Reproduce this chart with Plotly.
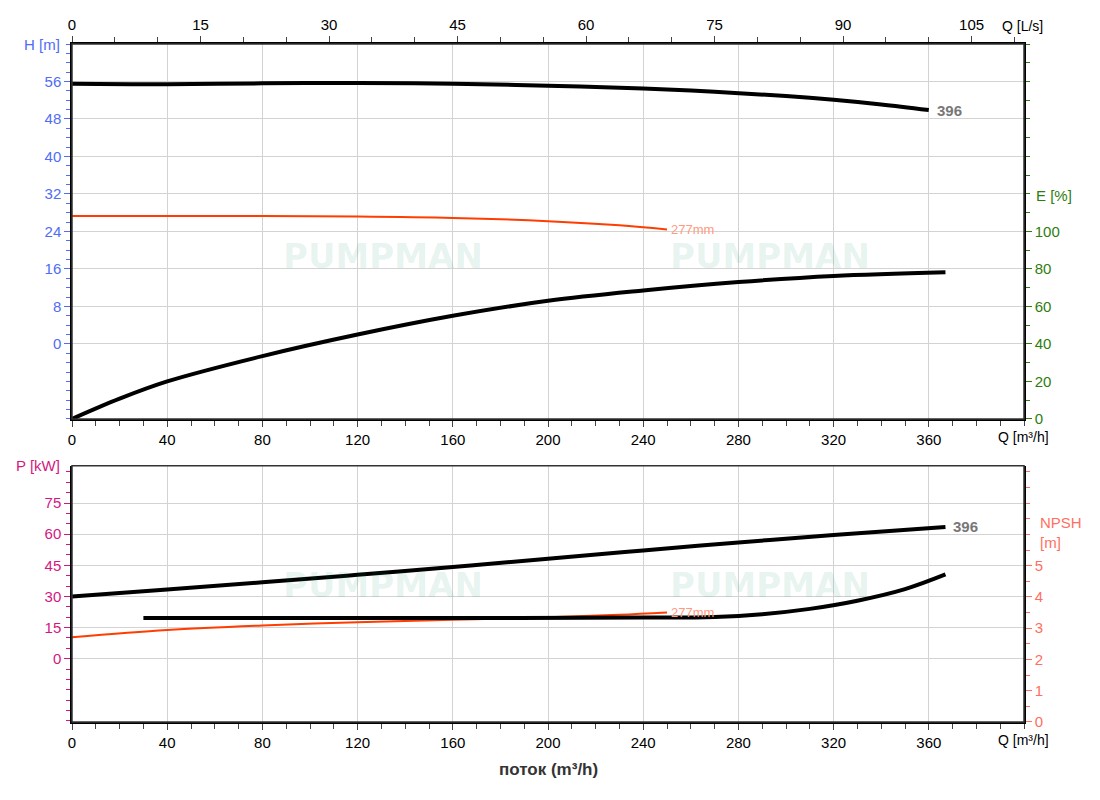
import plotly.graph_objects as go

# top chart: head and efficiency vs flow
q_head = [0, 40, 80, 120, 160, 200, 240, 270, 300, 320, 340, 360]
head_396 = [55.5, 55.4, 55.6, 55.7, 55.5, 55.1, 54.5, 53.8, 52.9, 52.1, 51.1, 49.9]
q_head_277 = [0, 40, 80, 120, 160, 200, 230, 250]
head_277 = [27.3, 27.3, 27.3, 27.2, 26.9, 26.2, 25.3, 24.4]
q_eff = [0, 20, 40, 80, 120, 160, 200, 240, 280, 320, 367]
eff = [0, 10.8, 20, 33.5, 45, 55, 63, 68.5, 73, 76.3, 78.3]

# bottom chart: power and NPSH vs flow
q_pow = [0, 40, 80, 120, 160, 200, 240, 280, 320, 367]
pow_396 = [30, 33.3, 36.8, 40.4, 44.2, 48.2, 52.2, 56, 59.6, 63.5]
q_pow_277 = [0, 40, 80, 120, 160, 200, 230, 250]
pow_277 = [10.3, 13.8, 16, 17.6, 18.8, 20, 21.2, 22.3]
q_npsh = [30, 80, 160, 240, 270, 290, 310, 330, 350, 367]
npsh = [3.33, 3.33, 3.33, 3.34, 3.36, 3.45, 3.62, 3.88, 4.25, 4.72]

BLUE = "#4f6df5"
GREEN = "#2e7d10"
MAGENTA = "#d4177f"
SALMON = "#ff6f61"
RED = "#ff3d00"
GRID = "#d3d3d3"

fig = go.Figure()
fig.add_trace(go.Scatter(x=q_head, y=head_396, mode="lines", line=dict(color="black", width=4),
                         xaxis="x", yaxis="y", line_shape="spline"))
fig.add_trace(go.Scatter(x=q_head_277, y=head_277, mode="lines", line=dict(color=RED, width=2),
                         xaxis="x", yaxis="y", line_shape="spline"))
fig.add_trace(go.Scatter(x=q_eff, y=eff, mode="lines", line=dict(color="black", width=4),
                         xaxis="x", yaxis="y2", line_shape="spline"))
fig.add_trace(go.Scatter(x=q_pow, y=pow_396, mode="lines", line=dict(color="black", width=4),
                         xaxis="x2", yaxis="y3", line_shape="spline"))
fig.add_trace(go.Scatter(x=q_pow_277, y=pow_277, mode="lines", line=dict(color=RED, width=2),
                         xaxis="x2", yaxis="y3", line_shape="spline"))
fig.add_trace(go.Scatter(x=q_npsh, y=npsh, mode="lines", line=dict(color="black", width=4),
                         xaxis="x2", yaxis="y4", line_shape="spline"))
# dummy trace so the top L/s axis is drawn
fig.add_trace(go.Scatter(x=[0], y=[0], mode="markers", marker=dict(opacity=0),
                         xaxis="x3", yaxis="y", hoverinfo="skip"))

base = dict(ticks="outside", ticklen=6, showline=True, linecolor="black", linewidth=1.5,
            zeroline=False, automargin=False, tickfont_size=15)
TOP = [0.447, 1.0]
BOT = [0.0, 0.378]

fig.update_layout(
    width=1100, height=800, showlegend=False,
    plot_bgcolor="white", paper_bgcolor="white",
    margin=dict(l=64, r=84, t=36, b=86),
    font=dict(family="Arial", size=14, color="black"),
    xaxis=dict(domain=[0, 1], range=[0, 400], anchor="y", tickvals=list(range(0, 361, 40)),
               showgrid=True, gridcolor=GRID,
               minor=dict(dtick=10, ticks="outside", ticklen=5, showgrid=False), **base),
    xaxis3=dict(range=[0, 400 / 3.6], overlaying="x", side="top", anchor="y",
                tickvals=list(range(0, 106, 15)), showgrid=False,
                minor=dict(dtick=5, ticks="outside", ticklen=5), **base),
    yaxis=dict(domain=TOP, range=[-16, 64], tickvals=list(range(0, 57, 8)), anchor="x",
               showgrid=True, gridcolor=GRID, tickcolor=BLUE, tickfont_color=BLUE,
               minor=dict(dtick=2, ticks="outside", ticklen=4, tickcolor=BLUE, showgrid=False),
               **base),
    yaxis2=dict(range=[0, 200], tickvals=list(range(0, 101, 20)), overlaying="y", side="right",
                anchor="x", showgrid=False, tickcolor=GREEN, tickfont_color=GREEN,
                minor=dict(dtick=10, ticks="outside", ticklen=4, tickcolor=GREEN),
                **base),
    xaxis2=dict(domain=[0, 1], range=[0, 400], anchor="y3", tickvals=list(range(0, 361, 40)),
                showgrid=True, gridcolor=GRID,
                minor=dict(dtick=10, ticks="outside", ticklen=5, showgrid=False), **base),
    yaxis3=dict(domain=BOT, range=[-30.5, 93], tickvals=list(range(0, 76, 15)), anchor="x2",
                showgrid=True, gridcolor=GRID, tickcolor=MAGENTA, tickfont_color=MAGENTA,
                minor=dict(dtick=5, ticks="outside", ticklen=4, tickcolor=MAGENTA, showgrid=False),
                **base),
    yaxis4=dict(range=[0, 8.2], tickvals=list(range(0, 6)), overlaying="y3", side="right",
                anchor="x2", showgrid=False, tickcolor=SALMON, tickfont_color=SALMON,
                minor=dict(dtick=0.5, ticks="outside", ticklen=4, tickcolor=SALMON),
                **base),
)

ann = [
    dict(text="H [m]", x=0, y=1, xref="paper", yref="paper", xanchor="right", yanchor="middle",
         xshift=-10, font=dict(color=BLUE, size=15)),
    dict(text="Q [L/s]", x=1, y=1, xref="paper", yref="paper", xanchor="left", yanchor="bottom",
         xshift=-24, yshift=8, font=dict(size=14)),
    dict(text="E [%]", x=1, y=0.777, xref="paper", yref="paper", xanchor="left", yanchor="middle",
         xshift=10, font=dict(color=GREEN, size=15)),
    dict(text="Q [m³/h]", x=1, y=0.447, xref="paper", yref="paper", xanchor="left", yanchor="top",
         xshift=-28, yshift=-8, font=dict(size=14)),
    dict(text="P [kW]", x=0, y=0.378, xref="paper", yref="paper", xanchor="right", yanchor="middle",
         xshift=-10, font=dict(color=MAGENTA, size=15)),
    dict(text="NPSH<br>[m]", x=1, y=0.28, xref="paper", yref="paper", xanchor="left", yanchor="middle",
         xshift=14, align="left", font=dict(color=SALMON, size=15)),
    dict(text="Q [m³/h]", x=1, y=0, xref="paper", yref="paper", xanchor="left", yanchor="top",
         xshift=-28, yshift=-8, font=dict(size=14)),
    dict(text="<b>поток (m³/h)</b>", x=0.5, y=0, xref="paper", yref="paper", yanchor="top",
         yshift=-36, font=dict(size=17, color="#333")),
    dict(text="<b>396</b>", x=q_head[-1], y=head_396[-1], xref="x", yref="y", xanchor="left",
         xshift=6, font=dict(color="#777", size=15)),
    dict(text="277mm", x=q_head_277[-1], y=head_277[-1], xref="x", yref="y", xanchor="left",
         xshift=2, font=dict(color="#ff9a80", size=13)),
    dict(text="<b>396</b>", x=q_pow[-1], y=pow_396[-1], xref="x2", yref="y3", xanchor="left",
         xshift=6, font=dict(color="#777", size=15)),
    dict(text="277mm", x=q_pow_277[-1], y=pow_277[-1], xref="x2", yref="y3", xanchor="left",
         xshift=2, font=dict(color="#ff9a80", size=13)),
]
# faint watermark text
for xr, yr in [(0.22, 0.72), (0.84, 0.72), (0.22, 0.17), (0.84, 0.17)]:
    ann.append(dict(text="<b>PUMPMAN</b>", x=xr, y=yr, xref="paper", yref="paper",
                    showarrow=False, font=dict(size=34, color="rgba(0,140,90,0.10)",
                                               family="DejaVu Sans")))
for a in ann:
    a.setdefault("showarrow", False)
fig.update_layout(annotations=ann)

# outline boxes
for y0, y1 in [TOP, BOT]:
    fig.add_shape(type="rect", xref="paper", yref="paper", x0=0, x1=1, y0=y0, y1=y1,
                  line=dict(color="#333", width=1.5))

fig.write_html("out.html")
